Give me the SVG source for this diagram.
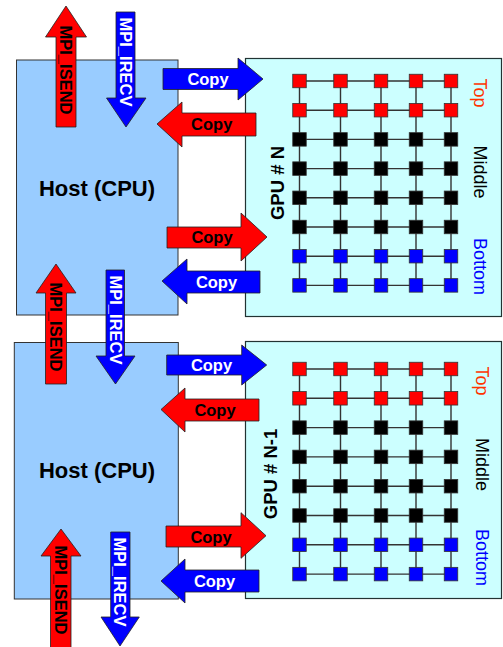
<svg xmlns="http://www.w3.org/2000/svg" width="503" height="647" viewBox="0 0 503 647">
<style>
.host{fill:#99ccff;stroke:#333;stroke-width:1}
.gpu{fill:#ccffff;stroke:#223333;stroke-width:1.2}
.gl{stroke:#333;stroke-width:1.4;fill:none}
.r{fill:#ff0000;stroke:#333;stroke-width:0.8}
.k{fill:#000;stroke:#333;stroke-width:0.8}
.b{fill:#0000ff;stroke:#333;stroke-width:0.8}
.ar{fill:#ff0000;stroke:#222;stroke-width:0.8}
.ab{fill:#0000ff;stroke:#222;stroke-width:0.8}
text{font-family:"Liberation Sans",Arial,sans-serif}
.ct{font-weight:bold;font-size:16.5px;text-anchor:middle;dominant-baseline:central}
.mt{font-weight:bold;font-size:16.5px;text-anchor:middle;dominant-baseline:central}
.ht{font-weight:bold;font-size:22px;text-anchor:middle;dominant-baseline:central}
.gt{font-weight:bold;font-size:18.5px;text-anchor:middle;dominant-baseline:central}
.lt{font-size:18px;text-anchor:middle;dominant-baseline:central}
.w{fill:#fff}.bk{fill:#000}
</style>
<defs>
<rect id="sq" x="-6.75" y="-6.75" width="13.5" height="13.5"/>
</defs>
<g id="host1"><rect class="host" x="16.5" y="60" width="161.5" height="255"/><text class="ht" x="97" y="188">Host (CPU)</text></g>
<g id="host2"><rect class="host" x="14.3" y="342.5" width="164" height="256.5"/><text class="ht" x="97" y="470">Host (CPU)</text></g>
<g id="gpuN">
<rect class="gpu" x="245.5" y="58.5" width="256" height="258"/>
<g class="gl">
<path d="M299.5 81H451M299.5 110.2H451M299.5 139.4H451M299.5 168.6H451M299.5 197.8H451M299.5 227H451M299.5 256.2H451M299.5 285.4H451"/>
<path d="M299.5 81V285.4M340.5 81V285.4M381 81V285.4M416 81V285.4M451 81V285.4"/>
</g>
<g class="r">
<use href="#sq" x="299.5" y="81"/><use href="#sq" x="340.5" y="81"/><use href="#sq" x="381" y="81"/><use href="#sq" x="416" y="81"/><use href="#sq" x="451" y="81"/>
<use href="#sq" x="299.5" y="110.2"/><use href="#sq" x="340.5" y="110.2"/><use href="#sq" x="381" y="110.2"/><use href="#sq" x="416" y="110.2"/><use href="#sq" x="451" y="110.2"/>
</g>
<g class="k">
<use href="#sq" x="299.5" y="139.4"/><use href="#sq" x="340.5" y="139.4"/><use href="#sq" x="381" y="139.4"/><use href="#sq" x="416" y="139.4"/><use href="#sq" x="451" y="139.4"/>
<use href="#sq" x="299.5" y="168.6"/><use href="#sq" x="340.5" y="168.6"/><use href="#sq" x="381" y="168.6"/><use href="#sq" x="416" y="168.6"/><use href="#sq" x="451" y="168.6"/>
<use href="#sq" x="299.5" y="197.8"/><use href="#sq" x="340.5" y="197.8"/><use href="#sq" x="381" y="197.8"/><use href="#sq" x="416" y="197.8"/><use href="#sq" x="451" y="197.8"/>
<use href="#sq" x="299.5" y="227"/><use href="#sq" x="340.5" y="227"/><use href="#sq" x="381" y="227"/><use href="#sq" x="416" y="227"/><use href="#sq" x="451" y="227"/>
</g>
<g class="b">
<use href="#sq" x="299.5" y="256.2"/><use href="#sq" x="340.5" y="256.2"/><use href="#sq" x="381" y="256.2"/><use href="#sq" x="416" y="256.2"/><use href="#sq" x="451" y="256.2"/>
<use href="#sq" x="299.5" y="285.4"/><use href="#sq" x="340.5" y="285.4"/><use href="#sq" x="381" y="285.4"/><use href="#sq" x="416" y="285.4"/><use href="#sq" x="451" y="285.4"/>
</g>
<text class="gt" transform="translate(277 183) rotate(-90)">GPU # N</text>
<text class="lt" fill="#ff3300" transform="translate(480 93) rotate(90)">Top</text>
<text class="lt" fill="#000" transform="translate(480 172) rotate(90)">Middle</text>
<text class="lt" fill="#0000ff" transform="translate(480 266.5) rotate(90)">Bottom</text>
</g>
<g id="gpuN-1">
<rect class="gpu" x="245.5" y="341.5" width="256" height="257"/>
<g class="gl">
<path d="M299.5 369H451M299.5 398.3H451M299.5 427.6H451M299.5 456.9H451M299.5 486.2H451M299.5 515.5H451M299.5 544.8H451M299.5 574.1H451"/>
<path d="M299.5 369V574.1M340.5 369V574.1M381 369V574.1M416 369V574.1M451 369V574.1"/>
</g>
<g class="r">
<use href="#sq" x="299.5" y="369"/><use href="#sq" x="340.5" y="369"/><use href="#sq" x="381" y="369"/><use href="#sq" x="416" y="369"/><use href="#sq" x="451" y="369"/>
<use href="#sq" x="299.5" y="398.3"/><use href="#sq" x="340.5" y="398.3"/><use href="#sq" x="381" y="398.3"/><use href="#sq" x="416" y="398.3"/><use href="#sq" x="451" y="398.3"/>
</g>
<g class="k">
<use href="#sq" x="299.5" y="427.6"/><use href="#sq" x="340.5" y="427.6"/><use href="#sq" x="381" y="427.6"/><use href="#sq" x="416" y="427.6"/><use href="#sq" x="451" y="427.6"/>
<use href="#sq" x="299.5" y="456.9"/><use href="#sq" x="340.5" y="456.9"/><use href="#sq" x="381" y="456.9"/><use href="#sq" x="416" y="456.9"/><use href="#sq" x="451" y="456.9"/>
<use href="#sq" x="299.5" y="486.2"/><use href="#sq" x="340.5" y="486.2"/><use href="#sq" x="381" y="486.2"/><use href="#sq" x="416" y="486.2"/><use href="#sq" x="451" y="486.2"/>
<use href="#sq" x="299.5" y="515.5"/><use href="#sq" x="340.5" y="515.5"/><use href="#sq" x="381" y="515.5"/><use href="#sq" x="416" y="515.5"/><use href="#sq" x="451" y="515.5"/>
</g>
<g class="b">
<use href="#sq" x="299.5" y="544.8"/><use href="#sq" x="340.5" y="544.8"/><use href="#sq" x="381" y="544.8"/><use href="#sq" x="416" y="544.8"/><use href="#sq" x="451" y="544.8"/>
<use href="#sq" x="299.5" y="574.1"/><use href="#sq" x="340.5" y="574.1"/><use href="#sq" x="381" y="574.1"/><use href="#sq" x="416" y="574.1"/><use href="#sq" x="451" y="574.1"/>
</g>
<text class="gt" transform="translate(270.5 474) rotate(-90)">GPU # N-1</text>
<text class="lt" fill="#ff3300" transform="translate(482 381) rotate(90)">Top</text>
<text class="lt" fill="#000" transform="translate(482 464.5) rotate(90)">Middle</text>
<text class="lt" fill="#0000ff" transform="translate(482 557.5) rotate(90)">Bottom</text>
</g>
<g id="connectors">
<polygon class="ar" points="56,127 56,37 45.5,37 66,6 86.5,37 76,37 76,127"/>
<text class="mt bk" transform="translate(66 70) rotate(90)">MPI_ISEND</text>
<polygon class="ab" points="116,12 135,12 135,98 146,98 126,127 106.5,98 116,98"/>
<text class="mt w" transform="translate(125.5 62) rotate(90)">MPI_IRECV</text>
<polygon class="ar" points="45.5,384 45.5,293 36,293 56,264 76,293 66.5,293 66.5,384"/>
<text class="mt bk" transform="translate(56 327) rotate(90)">MPI_ISEND</text>
<polygon class="ab" points="106,270 124.5,270 124.5,356 135,356 115.5,384 96,356 106,356"/>
<text class="mt w" transform="translate(115.5 320) rotate(90)">MPI_IRECV</text>
<polygon class="ar" points="50.5,650 50.5,556 41,556 61,529 81,556 71,556 71,650"/>
<text class="mt bk" transform="translate(61 590) rotate(90)">MPI_ISEND</text>
<polygon class="ab" points="110.7,532 130,532 130,617 139.3,617 120,646 101,617 110.7,617"/>
<text class="mt w" transform="translate(120.3 582) rotate(90)">MPI_IRECV</text>
<polygon class="ab" points="163,68.5 238,68.5 238,58 263,79 238,100 238,89.5 163,89.5"/>
<text class="ct w" x="208" y="79">Copy</text>
<polygon class="ar" points="157,124 182,102 182,113 256,113 256,136 182,136 182,147"/>
<text class="ct bk" x="211.7" y="124">Copy</text>
<polygon class="ar" points="167,227 241,227 241,213 267,237 241,261 241,248 167,248"/>
<text class="ct bk" x="212" y="237">Copy</text>
<polygon class="ab" points="162,281 187,259 187,271 260,271 260,293 187,293 187,304"/>
<text class="ct w" x="216.5" y="282">Copy</text>
<polygon class="ab" points="166.7,355 241.7,355 241.7,345 266.7,365 241.7,385 241.7,375 166.7,375"/>
<text class="ct w" x="211.5" y="365">Copy</text>
<polygon class="ar" points="161,409.5 185,388 185,399 259,399 259,421 185,421 185,432"/>
<text class="ct bk" x="215" y="410">Copy</text>
<polygon class="ar" points="166,526 241,526 241,512.7 266,535.7 241,558.3 241,547 166,547"/>
<text class="ct bk" x="211" y="537">Copy</text>
<polygon class="ab" points="161,581 185,559 185,570 259,570 259,592 185,592 185,603"/>
<text class="ct w" x="214.5" y="581">Copy</text>
</g>
</svg>
